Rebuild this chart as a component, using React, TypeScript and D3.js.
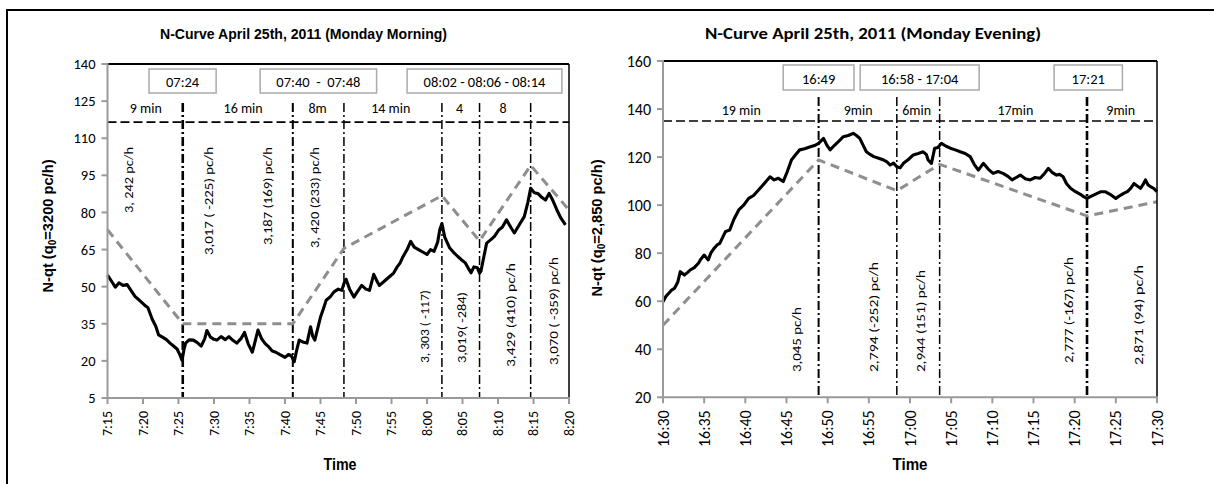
import React from 'react';
import * as d3 from 'd3';

// ---------- Morning (left) ----------
const amTickLabels = ["7:15","7:20","7:25","7:30","7:35","7:40","7:45","7:50","7:55","8:00","8:05","8:10","8:15","8:20"];
const amYTicks = [5,20,35,50,65,80,95,110,125,140];
const amCurveT = [0,0.5,1.1,1.6,2.2,2.75,3.3,3.9,4.5,5.2,5.7,6.3,6.8,7.2,7.8,8.3,8.8,9.3,9.8,10.2,10.5,10.8,11.0,11.5,12.1,12.6,13.2,13.7,14.0,14.5,15.0,15.4,16.0,16.6,17.1,17.7,18.2,18.8,19.3,19.8,20.4,20.8,21.2,21.7,22.2,22.6,23.2,23.7,24.3,25.0,25.5,25.9,26.3,26.7,27.0,27.6,28.1,28.6,28.9,29.2,29.6,30.0,30.4,30.8,31.4,31.9,32.5,33.0,33.3,33.6,34.1,34.7,35.2,35.8,36.4,36.9,37.5,38.0,38.3,38.9,39.7,40.3,40.8,41.2,41.6,42.2,42.7,43.2,43.8,44.4,45.0,45.5,46.0,46.5,46.8,47.1,47.5,48.2,48.7,49.3,49.8,50.4,50.8,51.2,51.6,52.1,52.4,52.6,53.0,53.4,54.0,54.5,55.1,55.6,56.2,56.8,57.3,58.0,58.7,59.2,59.6,60.1,60.6,61.2,61.7,62.2,62.7,63.3,63.8,64.2,64.5];
const amCurveV = [54.7,52.5,49.8,51.5,50.5,50.9,48.5,46,44.5,42.6,41.5,36.8,34,30.5,29.5,28.6,27.2,26,24.8,22.4,20.2,25,27.2,28.5,28.4,27.5,26,29,32.3,29.6,28.7,28.4,29.8,28.6,29.8,28.2,27.2,29,31.5,27,23.5,28,32.5,29,27,26,24,23.5,22.5,21.4,22.6,22,19.7,25,28.4,27.5,27.2,33.8,30,28.4,33,37.7,41,44.5,46,47.9,49,48.5,51.3,53,49,45.8,48,50.5,49,48.5,55,52,50.5,52,54,55.5,58,59.5,62,65,68.3,66,65,64,63,65,64.3,68,73,75.5,70,65.6,64,62.3,61,59.6,57.5,55.6,58,57.6,55.5,56.3,62,67.6,69,70.3,72.9,74,77,74,71.7,75,78.3,84,89.8,88,87.7,86,85,87.7,85,81,78,76.3,75];
const amRefT = [0,10.6,26.1,33.3,47.1,52.4,59.6,65];
const amRefV = [73,35,35,65.5,86.8,68.5,99,81];
const amDividerT = [10.6,26.1,33.3,47.1,52.4,59.6];
const amSegLabels = ["9 min","16 min","8m","14 min","4","8"];
const amSegT = [5.4,19.1,29.6,39.9,49.6,55.7];
const amBoxLabels = ["07:24","07:40  -  07:48","08:02 - 08:06 - 08:14"];
const amBoxT0 = [5.85,21.5,42.2];
const amBoxT1 = [15.3,37.9,64];
const amRateLabels = ["3, 242 pc/h","3,017 ( -225) pc/h","3,187 (169) pc/h","3, 420 (233) pc/h","3, 303 ( -117)","3,019( -284)","3,429 (410) pc/h","3,070 ( -359) pc/h"];
const amRateT = [3.0,14.15,22.5,29.2,44.6,49.9,56.7,62.8];
const amRateV = [79.8,62.8,66.8,65.6,19.1,19.1,17.5,18.3];
const amRateLen = [66,108,98,101,73,71,104,108];

// ---------- Evening (right) ----------
const pmTickLabels = ["16:30","16:35","16:40","16:45","16:50","16:55","17:00","17:05","17:10","17:15","17:20","17:25","17:30"];
const pmYTicks = [20,40,60,80,100,120,140,160];
const pmCurveT = [0,0.35,0.7,1.0,1.4,1.8,2.1,2.6,3.0,3.3,3.8,4.3,4.6,5.0,5.5,5.8,6.2,6.6,6.9,7.3,7.6,8.1,8.6,9.2,9.8,10.4,11.0,11.6,12.3,13.0,13.5,14.0,14.6,15.1,15.6,16.1,16.6,17.2,17.9,18.4,18.9,19.5,19.9,20.3,20.8,21.3,21.9,22.5,23.1,23.5,23.9,24.3,24.7,25.2,25.6,26.2,26.8,27.2,27.6,28.0,28.4,28.8,29.2,29.8,30.4,31.0,31.6,32.0,32.2,32.6,33.0,33.4,33.8,34.4,34.9,35.5,36.1,36.7,37.3,37.8,38.3,38.9,39.5,40.1,40.7,41.3,41.9,42.4,42.9,43.4,44.0,44.6,45.2,45.8,46.3,46.8,47.3,47.8,48.2,48.6,49.0,49.5,50.1,50.7,51.1,51.5,51.9,52.3,52.8,53.2,53.7,54.3,55.0,55.6,56.0,56.4,56.8,57.2,57.6,58.0,58.3,58.6,58.9,59.2,59.6,60];
const pmCurveV = [59.8,62,63.3,64.5,65.4,68,72.3,70.9,72,73,74,75.8,77.5,79.2,77.2,80,82,83.5,84.1,87,89,89.6,94,98,100,102.8,104,106.3,109,111.8,110.5,111.2,109.8,114,118.8,121,123,123.5,124.3,124.8,125.7,127.8,125,123,124.8,126.4,128.5,129,129.9,129,127.8,125,122.2,121,120.2,119.5,118.8,118,116.7,117.5,116,115.5,117.4,119,120.9,121.5,122.2,121,118.8,117.4,123.7,124,125.7,124.5,123.7,123,122.2,121.5,120.2,117,114.6,117.4,115,113.2,114,113.2,112,110.5,111.5,112.5,111,110.5,111.5,111.2,113,115.3,113.5,112.5,112.8,111.8,109,107,105.6,104.5,103.5,102.8,103.5,104.2,105,105.6,105.6,104.5,102.8,104.2,105,105.6,107,109,108,107,108.5,110.5,108.5,107.7,107,105.6];
const pmRefT = [0,18.9,28.4,33.6,51.5,60];
const pmRefV = [50,118.8,106,117,95.5,101.4];
const pmDividerT = [18.9,28.4,33.6,51.5];
const pmSegLabels = ["19 min","9min","6min","17min","9min"];
const pmSegT = [9.5,23.7,30.8,42.8,55.6];
const pmBoxLabels = ["16:49","16:58 - 17:04","17:21"];
const pmBoxT0 = [14.6,23.95,47.5];
const pmBoxT1 = [23.2,38.4,55.8];
const pmRateLabels = ["3,045 pc/h","2,794 (-252) pc/h","2,944 (151) pc/h","2,777 (-167) pc/h","2,871 (94) pc/h"];
const pmRateT = [16.15,25.6,31.3,49.2,57.8];
const pmRateV = [30.5,30.5,30.5,34.3,33.4];
const pmRateLen = [65,110,102,106,100];

const FONT = "Carlito, Calibri, Lato, 'Open Sans', sans-serif";
const NARROW = "'Liberation Sans Narrow', 'Arial Narrow', 'Liberation Sans', Arial, sans-serif";

type Cfg = {
  span: number; left: number; right: number; top: number; bottom: number; yDomain: [number, number];
  ticks: string[]; yTicks: number[]; curveT: number[]; curveV: number[]; refT: number[]; refV: number[];
  dividerT: number[]; dividerW: number[]; dividerTop: number; level: number;
  segLabels: string[]; segT: number[]; segDy: number;
  boxLabels: string[]; boxT0: number[]; boxT1: number[]; boxTop: number; boxH: number;
  rateLabels: string[]; rateT: number[]; rateV: number[]; rateLen: number[];
  tickFont: number; yTickFont: number; title: string; titleX: number; titleLen: number; titleFont: string;
  timeX: number; timeLen: number;
};

function Panel({ c }: { c: Cfg }) {
  const x = d3.scaleLinear().domain([0, c.span]).range([c.left, c.right]);
  const y = d3.scaleLinear().domain(c.yDomain).range([c.bottom, c.top]);
  const tickStep = c.span / (c.ticks.length - 1);
  const curve = d3.line<number>().x((_, i) => x(c.curveT[i])).y(d => y(d));
  const ref = d3.line<number>().x((_, i) => x(c.refT[i])).y(d => y(d));
  const gray = '#9a9a9a';
  return (
    <g>
      <text x={c.titleX} y={39} textAnchor="middle" fontFamily={c.titleFont} fontWeight="bold" fontSize={15}
        textLength={c.titleLen} lengthAdjust="spacingAndGlyphs">{c.title}</text>
      {c.boxLabels.map((s, i) => (
        <g key={'b' + i}>
          <rect x={x(c.boxT0[i])} y={c.top + c.boxTop} width={x(c.boxT1[i]) - x(c.boxT0[i])} height={c.boxH}
            fill="#fff" stroke="#aaaaaa" strokeWidth={1.5} />
          <text x={(x(c.boxT0[i]) + x(c.boxT1[i])) / 2} y={c.top + c.boxTop + c.boxH - 6} textAnchor="middle"
            fontFamily={FONT} fontSize={14.5} style={{ whiteSpace: 'pre' }}>{s}</text>
        </g>
      ))}
      <line x1={c.left} x2={c.right} y1={y(c.level)} y2={y(c.level)} stroke="#000" strokeWidth={1.6} strokeDasharray="9,4" />
      {c.segLabels.map((s, i) => (
        <text key={'s' + i} x={x(c.segT[i])} y={y(c.level) - c.segDy} textAnchor="middle" fontFamily={FONT} fontSize={14}>{s}</text>
      ))}
      {c.dividerT.map((t, i) => (
        <line key={'d' + i} x1={x(t)} x2={x(t)} y1={y(c.dividerTop)} y2={c.bottom} stroke="#000"
          strokeWidth={c.dividerW[i]} strokeDasharray="9,3,2,3" />
      ))}
      {c.rateLabels.map((s, i) => (
        <text key={'r' + i} transform={`translate(${x(c.rateT[i])},${y(c.rateV[i])}) rotate(-90)`} dy="0.35em"
          fontFamily={FONT} fontSize={13} textLength={c.rateLen[i]} lengthAdjust="spacingAndGlyphs">{s}</text>
      ))}
      <path d={ref(c.refV) || ''} fill="none" stroke="#8e8e8e" strokeWidth={3} strokeDasharray="9,6" />
      <path d={curve(c.curveV) || ''} fill="none" stroke="#000" strokeWidth={3.1} strokeLinejoin="round" />
      <line x1={c.left} x2={c.right} y1={c.top} y2={c.top} stroke="#000" strokeWidth={2} />
      <line x1={c.right} x2={c.right} y1={c.top} y2={c.bottom} stroke="#000" strokeWidth={1.5} />
      <line x1={c.left} x2={c.left} y1={c.top - 1} y2={c.bottom + 1} stroke={gray} strokeWidth={2} />
      <line x1={c.left - 1} x2={c.right + 1} y1={c.bottom} y2={c.bottom} stroke={gray} strokeWidth={2} />
      {c.yTicks.map(v => (
        <g key={'y' + v}>
          <line x1={c.left - 6} x2={c.left} y1={y(v)} y2={y(v)} stroke={gray} strokeWidth={2} />
          <text x={c.left - 12} y={y(v)} dy="0.35em" textAnchor="end" fontFamily={FONT} fontSize={c.yTickFont}>{v}</text>
        </g>
      ))}
      {c.ticks.map((s, i) => (
        <g key={'x' + i}>
          <line x1={x(i * tickStep)} x2={x(i * tickStep)} y1={c.bottom} y2={c.bottom + 6} stroke={gray} strokeWidth={2} />
          <text transform={`translate(${x(i * tickStep)},${c.bottom + 13}) rotate(-90)`} dy="0.35em" textAnchor="end"
            fontFamily={FONT} fontSize={c.tickFont}>{s}</text>
        </g>
      ))}
      <text x={c.timeX} y={470} textAnchor="middle" fontFamily={NARROW} fontWeight="bold" fontSize={16}
        textLength={c.timeLen} lengthAdjust="spacingAndGlyphs">Time</text>
    </g>
  );
}

const amCfg: Cfg = {
  span: 65, left: 107.5, right: 569, top: 64, bottom: 398, yDomain: [5, 140],
  ticks: amTickLabels, yTicks: amYTicks, curveT: amCurveT, curveV: amCurveV, refT: amRefT, refV: amRefV,
  dividerT: amDividerT, dividerW: [2.6, 2, 1.5, 1.5, 1.5, 1.5], dividerTop: 124.2, level: 116.5,
  segLabels: amSegLabels, segT: amSegT, segDy: 9.5,
  boxLabels: amBoxLabels, boxT0: amBoxT0, boxT1: amBoxT1, boxTop: 5, boxH: 24,
  rateLabels: amRateLabels, rateT: amRateT, rateV: amRateV, rateLen: amRateLen,
  tickFont: 14, yTickFont: 14.5, title: 'N-Curve April 25th, 2011 (Monday Morning)', titleX: 303.5, titleLen: 287, titleFont: NARROW,
  timeX: 340, timeLen: 33,
};

const pmCfg: Cfg = {
  span: 60, left: 663, right: 1157, top: 61, bottom: 397.3, yDomain: [20, 160],
  ticks: pmTickLabels, yTicks: pmYTicks, curveT: pmCurveT, curveV: pmCurveV, refT: pmRefT, refV: pmRefV,
  dividerT: pmDividerT, dividerW: [2, 1.5, 1.5, 2.6], dividerTop: 145, level: 135,
  segLabels: pmSegLabels, segT: pmSegT, segDy: 6,
  boxLabels: pmBoxLabels, boxT0: pmBoxT0, boxT1: pmBoxT1, boxTop: 4, boxH: 25,
  rateLabels: pmRateLabels, rateT: pmRateT, rateV: pmRateV, rateLen: pmRateLen,
  tickFont: 16, yTickFont: 16, title: 'N-Curve April 25th, 2011 (Monday Evening)', titleX: 873, titleLen: 336, titleFont: FONT,
  timeX: 910, timeLen: 35,
};

function YTitle({ cx, cy, len, q }: { cx: number; cy: number; len: number; q: string }) {
  return (
    <text transform={`translate(${cx},${cy}) rotate(-90)`} textAnchor="middle" dy="0.35em" fontFamily={NARROW}
      fontWeight="bold" fontSize={14.5} textLength={len} lengthAdjust="spacingAndGlyphs">
      N-qt (q<tspan fontSize={10} dy={3}>0</tspan><tspan dy={-3}>{q}</tspan>
    </text>
  );
}

export default function App() {
  return (
    <svg width={1214} height={484} style={{ position: 'absolute', left: 0, top: 0, background: '#fff' }}>
      <rect x={0} y={0} width={1214} height={484} fill="#fff" />
      <path d="M7,484 V10 H1214" fill="none" stroke="#000" strokeWidth={2} />
      <Panel c={amCfg} />
      <Panel c={pmCfg} />
      <YTitle cx={48} cy={226} len={133} q="=3200  pc/h)" />
      <YTitle cx={597} cy={228} len={137} q="=2,850 pc/h)" />
    </svg>
  );
}
